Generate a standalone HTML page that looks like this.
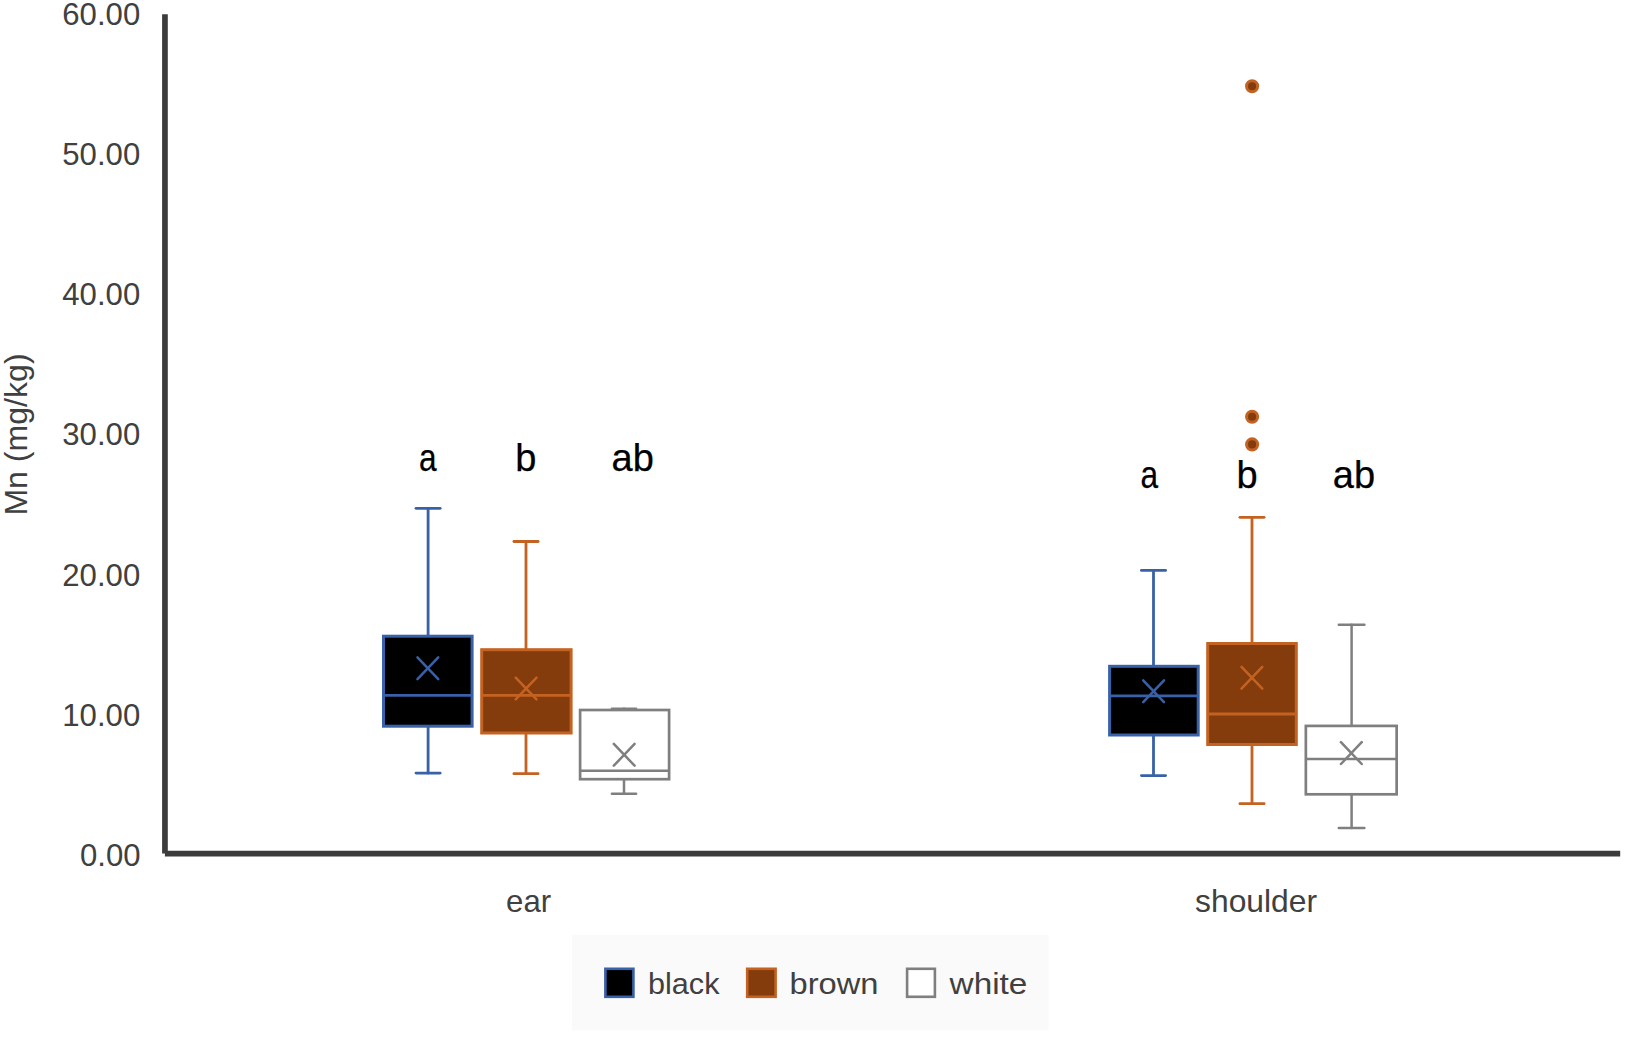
<!DOCTYPE html>
<html lang="en"><head><meta charset="utf-8"><title>Mn (mg/kg) box plot</title>
<style>
html,body{margin:0;padding:0;background:#fff;}
body{width:1650px;height:1056px;overflow:hidden;}
svg{display:block;}
text{font-family:"Liberation Sans",sans-serif;}
.t{font-size:30px;fill:#404040;}
.s{font-size:38px;fill:#000;stroke:#000;stroke-width:0.25px;}
.n{font-size:31.4px;fill:#404040;}
.y{font-size:31px;fill:#404040;}
.c{font-size:31.4px;fill:#404040;}
</style></head><body>
<svg width="1650" height="1056" viewBox="0 0 1650 1056">
<rect x="0" y="0" width="1650" height="1056" fill="#ffffff"/>
<rect x="572" y="934.7" width="476.5" height="95.5" fill="#FAFAFA"/>
<g stroke="#3861A8" stroke-width="2.80" stroke-linecap="round" fill="none">
<line x1="428.10" y1="508.30" x2="428.10" y2="636.20"/>
<line x1="416.00" y1="508.30" x2="440.20" y2="508.30"/>
<line x1="428.10" y1="726.20" x2="428.10" y2="773.10"/>
<line x1="416.00" y1="773.10" x2="440.20" y2="773.10"/>
<rect x="383.50" y="636.20" width="88.60" height="90.00" fill="#000000" stroke-width="3.00" stroke-linejoin="miter"/>
<line x1="383.50" y1="695.40" x2="472.10" y2="695.40" stroke-linecap="butt"/>
<line x1="417.45" y1="657.40" x2="438.25" y2="679.20" stroke-width="2.5"/>
<line x1="417.45" y1="679.20" x2="438.25" y2="657.40" stroke-width="2.5"/>
</g>
<g stroke="#C46222" stroke-width="2.80" stroke-linecap="round" fill="none">
<line x1="526.00" y1="541.50" x2="526.00" y2="649.70"/>
<line x1="513.90" y1="541.50" x2="538.10" y2="541.50"/>
<line x1="526.00" y1="733.00" x2="526.00" y2="773.70"/>
<line x1="513.90" y1="773.70" x2="538.10" y2="773.70"/>
<rect x="481.70" y="649.70" width="89.40" height="83.30" fill="#843C0C" stroke-width="3.00" stroke-linejoin="miter"/>
<line x1="481.70" y1="695.40" x2="571.10" y2="695.40" stroke-linecap="butt"/>
<line x1="515.70" y1="677.60" x2="536.50" y2="699.40" stroke-width="2.5"/>
<line x1="515.70" y1="699.40" x2="536.50" y2="677.60" stroke-width="2.5"/>
</g>
<g stroke="#7F7F7F" stroke-width="2.50" stroke-linecap="round" fill="none">
<line x1="624.00" y1="708.70" x2="624.00" y2="710.00"/>
<line x1="611.90" y1="708.70" x2="636.10" y2="708.70"/>
<line x1="624.00" y1="779.20" x2="624.00" y2="793.70"/>
<line x1="611.90" y1="793.70" x2="636.10" y2="793.70"/>
<rect x="580.10" y="710.00" width="89.00" height="69.20" fill="#FFFFFF" stroke-width="2.70" stroke-linejoin="miter"/>
<line x1="580.10" y1="770.80" x2="669.10" y2="770.80" stroke-linecap="butt"/>
<line x1="613.80" y1="743.90" x2="634.60" y2="765.70" stroke-width="2.5"/>
<line x1="613.80" y1="765.70" x2="634.60" y2="743.90" stroke-width="2.5"/>
</g>
<g stroke="#3861A8" stroke-width="2.80" stroke-linecap="round" fill="none">
<line x1="1153.50" y1="570.40" x2="1153.50" y2="666.30"/>
<line x1="1141.40" y1="570.40" x2="1165.60" y2="570.40"/>
<line x1="1153.50" y1="735.00" x2="1153.50" y2="775.60"/>
<line x1="1141.40" y1="775.60" x2="1165.60" y2="775.60"/>
<rect x="1109.60" y="666.30" width="88.60" height="68.70" fill="#000000" stroke-width="3.00" stroke-linejoin="miter"/>
<line x1="1109.60" y1="695.80" x2="1198.20" y2="695.80" stroke-linecap="butt"/>
<line x1="1143.20" y1="680.30" x2="1164.00" y2="702.10" stroke-width="2.5"/>
<line x1="1143.20" y1="702.10" x2="1164.00" y2="680.30" stroke-width="2.5"/>
</g>
<g stroke="#C46222" stroke-width="2.80" stroke-linecap="round" fill="none">
<line x1="1252.00" y1="517.30" x2="1252.00" y2="643.50"/>
<line x1="1239.90" y1="517.30" x2="1264.10" y2="517.30"/>
<line x1="1252.00" y1="744.50" x2="1252.00" y2="803.70"/>
<line x1="1239.90" y1="803.70" x2="1264.10" y2="803.70"/>
<rect x="1207.70" y="643.50" width="88.60" height="101.00" fill="#843C0C" stroke-width="3.00" stroke-linejoin="miter"/>
<line x1="1207.70" y1="714.00" x2="1296.30" y2="714.00" stroke-linecap="butt"/>
<line x1="1241.50" y1="666.80" x2="1262.30" y2="688.60" stroke-width="2.5"/>
<line x1="1241.50" y1="688.60" x2="1262.30" y2="666.80" stroke-width="2.5"/>
</g>
<g stroke="#7F7F7F" stroke-width="2.50" stroke-linecap="round" fill="none">
<line x1="1351.60" y1="624.70" x2="1351.60" y2="725.90"/>
<line x1="1338.80" y1="624.70" x2="1364.40" y2="624.70"/>
<line x1="1351.60" y1="794.30" x2="1351.60" y2="828.00"/>
<line x1="1338.80" y1="828.00" x2="1364.40" y2="828.00"/>
<rect x="1305.85" y="725.90" width="90.80" height="68.40" fill="#FFFFFF" stroke-width="2.70" stroke-linejoin="miter"/>
<line x1="1305.85" y1="759.00" x2="1396.65" y2="759.00" stroke-linecap="butt"/>
<line x1="1340.92" y1="742.20" x2="1361.73" y2="764.00" stroke-width="2.5"/>
<line x1="1340.92" y1="764.00" x2="1361.73" y2="742.20" stroke-width="2.5"/>
</g>
<circle cx="1252.10" cy="86.20" r="5.55" fill="#843C0C" stroke="#C46222" stroke-width="3.0"/>
<circle cx="1252.10" cy="416.70" r="5.55" fill="#843C0C" stroke="#C46222" stroke-width="3.0"/>
<circle cx="1252.10" cy="444.40" r="5.55" fill="#843C0C" stroke="#C46222" stroke-width="3.0"/>
<path d="M164.95 14.3 V853.4 M164.9 853.55 H1620.2" fill="none" stroke="#3C3C3C" stroke-width="5.7" stroke-linecap="butt"/>
<text class="n" x="62.30" y="25.25" textLength="77.90" lengthAdjust="spacingAndGlyphs">60.00</text>
<text class="n" x="62.30" y="165.32" textLength="77.90" lengthAdjust="spacingAndGlyphs">50.00</text>
<text class="n" x="62.30" y="305.39" textLength="77.90" lengthAdjust="spacingAndGlyphs">40.00</text>
<text class="n" x="62.30" y="445.46" textLength="77.90" lengthAdjust="spacingAndGlyphs">30.00</text>
<text class="n" x="62.30" y="585.53" textLength="77.90" lengthAdjust="spacingAndGlyphs">20.00</text>
<text class="n" x="62.30" y="725.60" textLength="77.90" lengthAdjust="spacingAndGlyphs">10.00</text>
<text class="n" x="79.95" y="865.67" textLength="60.60" lengthAdjust="spacingAndGlyphs">0.00</text>
<text class="y" transform="translate(27.2 515.6) rotate(-90)" x="0" y="0" textLength="162.2" lengthAdjust="spacingAndGlyphs">Mn (mg/kg)</text>
<text class="c" x="506.1" y="911.7" textLength="45" lengthAdjust="spacingAndGlyphs">ear</text>
<text class="c" x="1195.1" y="911.6" textLength="122" lengthAdjust="spacingAndGlyphs">shoulder</text>
<text class="s" x="418.90" y="471.00" textLength="17.60" lengthAdjust="spacingAndGlyphs">a</text>
<text class="s" x="525.70" y="471.00" text-anchor="middle">b</text>
<text class="s" x="632.70" y="471.00" text-anchor="middle">ab</text>
<text class="s" x="1140.50" y="488.10" textLength="17.60" lengthAdjust="spacingAndGlyphs">a</text>
<text class="s" x="1247.00" y="488.10" text-anchor="middle">b</text>
<text class="s" x="1354.00" y="488.10" text-anchor="middle">ab</text>
<rect x="605.40" y="968.80" width="28.00" height="28.00" fill="#000" stroke="#3861A8" stroke-width="2.60"/>
<text class="t" x="648" y="994.2" textLength="71.5" lengthAdjust="spacingAndGlyphs">black</text>
<rect x="747.20" y="968.80" width="28.40" height="28.00" fill="#843C0C" stroke="#C46222" stroke-width="2.60"/>
<text class="t" x="789.5" y="994.2" textLength="89" lengthAdjust="spacingAndGlyphs">brown</text>
<rect x="907.10" y="968.80" width="27.80" height="28.00" fill="#fff" stroke="#7F7F7F" stroke-width="2.60"/>
<text class="t" x="949.6" y="994.2" textLength="77.8" lengthAdjust="spacingAndGlyphs">white</text>
</svg>
</body></html>
